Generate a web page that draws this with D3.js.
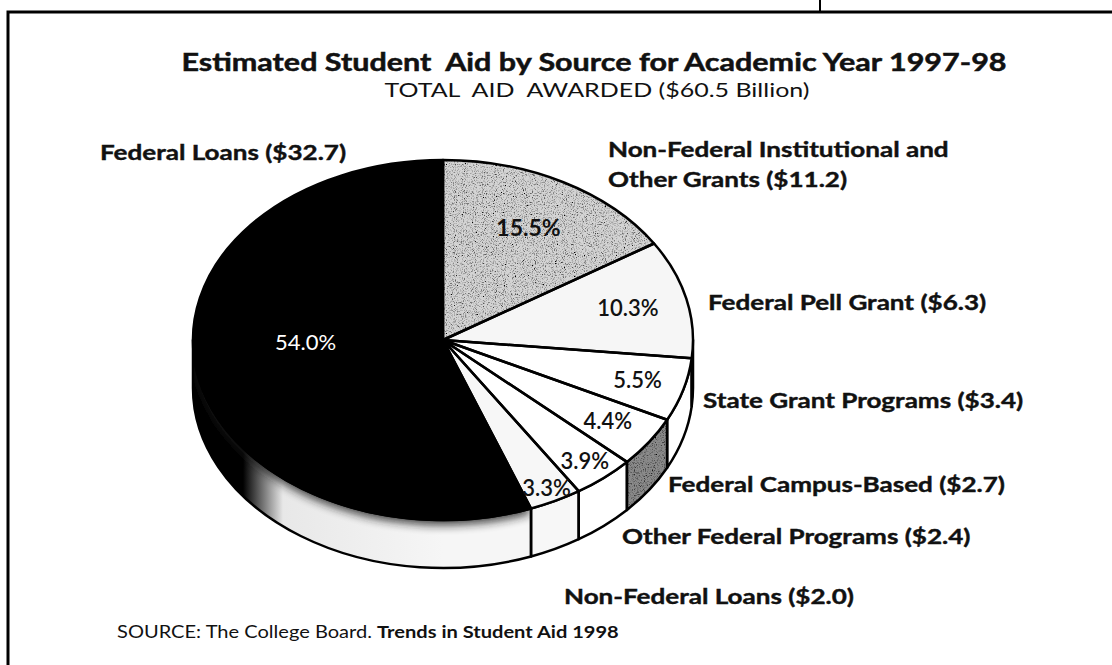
<!DOCTYPE html>
<html>
<head>
<meta charset="utf-8">
<script src="https://cdn.jsdelivr.net/npm/d3@7"></script>
<style>
  body { margin: 0; background: #fff; }
  svg { display: block; }
  text { font-family: Lato, "Open Sans", sans-serif; fill: #111; white-space: pre; }
</style>
</head>
<body>
<svg width="1112" height="665"></svg>
<script>
const svg = d3.select("svg");

// DATA (billions of dollars, and the shares printed on the slices)
const sources = [
  "Non-Federal Institutional and|Other Grants",
  "Federal Pell Grant",
  "State Grant Programs",
  "Federal Campus-Based",
  "Other Federal Programs",
  "Non-Federal Loans",
  "Federal Loans"
];
const billions = [11.2, 6.3, 3.4, 2.7, 2.4, 2.0, 32.7];
const percents = [15.5, 10.3, 5.5, 4.4, 3.9, 3.3, 54.0];
const totalAid = 60.5;

// LOOKS
const topFill = ["#d4d4d4", "#f6f6f6", "#fff", "#fff", "#fff", "#f7f7f7", "#000"];
const wallFill = ["#d4d4d4", "#f6f6f6", "#fff", "#8a8a8a", "#fff", "#f7f7f7", "url(#loanWall)"];
const grainy = [true, false, false, false, false, false, false];
const wallGrainy = [false, false, false, true, false, false, false];

// percent label placement: fraction of radius, angle nudge (deg)
const pctR = [0.71, 0.76, 0.81, 0.80, 0.88, 0.92, 0.55];
const pctNudge = [0, 0, 0, 0, 0, 0, 9];
const pctWeight = [700, 600, 600, 600, 600, 600, 400];
const pctSize = [23, 22, 22, 22, 22, 22, 22];

// category label anchors (left x, centre y of first line)
const nameAt = [[608, 150], [708, 303], [703, 401], [668, 485], [622, 537], [564, 597], [100, 153]];
const wide = 1.24; // the scanned face is much wider than Lato

// pie geometry (tilted ellipse)
const cx = 443, cy = 340, rx = 250, ry = 180, depth = 48;

const defs = svg.append("defs");
const lg = defs.append("linearGradient")
  .attr("id", "loanWall")
  .attr("gradientUnits", "userSpaceOnUse")
  .attr("x1", 193).attr("y1", 0).attr("x2", 443).attr("y2", 0);
lg.append("stop").attr("offset", 0).attr("stop-color", "#000");
lg.append("stop").attr("offset", 0.2).attr("stop-color", "#000");
lg.append("stop").attr("offset", 0.36).attr("stop-color", "#e8e8e8");
lg.append("stop").attr("offset", 1).attr("stop-color", "#f6f6f6");

const f = defs.append("filter").attr("id", "grain")
  .attr("x", 0).attr("y", 0).attr("width", "100%").attr("height", "100%");
f.append("feTurbulence").attr("type", "fractalNoise").attr("baseFrequency", 0.9)
  .attr("numOctaves", 2).attr("seed", 4).attr("result", "n");
f.append("feColorMatrix").attr("in", "n").attr("type", "matrix")
  .attr("values", "0 0 0 0 0  0 0 0 0 0  0 0 0 0 0  3 0 0 0 -1.45").attr("result", "dots");
f.append("feComposite").attr("in", "dots").attr("in2", "SourceGraphic").attr("operator", "in").attr("result", "d2");
const fm = f.append("feMerge");
fm.append("feMergeNode").attr("in", "SourceGraphic");
fm.append("feMergeNode").attr("in", "d2");

defs.append("filter").attr("id", "soft")
  .attr("x", "-10%").attr("y", "-10%").attr("width", "120%").attr("height", "130%")
  .append("feGaussianBlur").attr("stdDeviation", 5);

// stretch a text to k times its natural width
function stretch(sel, k) {
  const w = sel.node().getComputedTextLength() * k;
  sel.attr("textLength", w).attr("lengthAdjust", "spacingAndGlyphs");
  return w;
}

// frame
svg.append("path")
  .attr("d", "M8,665V12H1112")
  .attr("fill", "none").attr("stroke", "#000").attr("stroke-width", 3);
svg.append("line")
  .attr("x1", 820).attr("x2", 820).attr("y1", 0).attr("y2", 12)
  .attr("stroke", "#000").attr("stroke-width", 2);

// titles
const title = svg.append("text")
  .attr("x", 594).attr("y", 62).attr("dy", "0.35em")
  .attr("text-anchor", "middle")
  .attr("font-size", 25).attr("font-weight", 700)
  .attr("stroke", "#111").attr("stroke-width", 0.5)
  .text("Estimated Student  Aid by Source for Academic Year 1997-98");
stretch(title, 1.22);
const sub = svg.append("text")
  .attr("x", 597).attr("y", 90).attr("dy", "0.35em")
  .attr("text-anchor", "middle")
  .attr("font-size", 19)
  .text(`TOTAL  AID  AWARDED ($${totalAid.toFixed(1)} Billion)`);
sub.attr("textLength", 425).attr("lengthAdjust", "spacingAndGlyphs");

// PIE
const pie = d3.pie().sort(null).startAngle(0).endAngle(2 * Math.PI);
const arcs = pie(percents);

const px = a => cx + rx * Math.sin(a);
const py = a => cy - ry * Math.cos(a);

function topPath(d) {
  const large = d.endAngle - d.startAngle > Math.PI ? 1 : 0;
  return `M${cx},${cy}L${px(d.startAngle)},${py(d.startAngle)}` +
    `A${rx},${ry} 0 ${large} 1 ${px(d.endAngle)},${py(d.endAngle)}Z`;
}

function wallPath(d) {
  const a0 = Math.max(d.startAngle, Math.PI / 2);
  const a1 = Math.min(d.endAngle, 3 * Math.PI / 2);
  if (a1 <= a0) return null;
  const large = a1 - a0 > Math.PI ? 1 : 0;
  return `M${px(a0)},${py(a0)}A${rx},${ry} 0 ${large} 1 ${px(a1)},${py(a1)}` +
    `L${px(a1)},${py(a1) + depth}A${rx},${ry} 0 ${large} 0 ${px(a0)},${py(a0) + depth}Z`;
}

const g = svg.append("g");

// side walls
const walls = arcs.map((d, i) => ({ d, i, p: wallPath(d) })).filter(w => w.p);
g.selectAll("path.wallfill").data(walls).enter().append("path")
  .attr("class", "wallfill")
  .attr("d", w => w.p)
  .attr("fill", w => wallFill[w.i])
  .attr("filter", w => wallGrainy[w.i] ? "url(#grain)" : null);

// smudgy shadow where the black top meets its light side
const loans = arcs[arcs.length - 1];
defs.append("clipPath").attr("id", "loanClip")
  .append("path").attr("d", wallPath(loans));
g.append("g").attr("clip-path", "url(#loanClip)")
  .append("path")
  .attr("d", topPath(loans))
  .attr("transform", "translate(0,5)")
  .attr("fill", "#1a1a1a")
  .attr("opacity", 0.85)
  .attr("filter", "url(#soft)");

g.selectAll("path.walledge").data(walls).enter().append("path")
  .attr("class", "walledge")
  .attr("d", w => w.p)
  .attr("fill", "none").attr("stroke", "#000").attr("stroke-width", 2.5)
  .attr("stroke-linejoin", "round");

// top faces
g.selectAll("path.top").data(arcs).enter().append("path")
  .attr("class", "top")
  .attr("d", topPath)
  .attr("fill", (d, i) => topFill[i])
  .attr("filter", (d, i) => grainy[i] ? "url(#grain)" : null);
g.selectAll("path.topedge").data(arcs).enter().append("path")
  .attr("class", "topedge")
  .attr("d", topPath)
  .attr("fill", "none").attr("stroke", "#000").attr("stroke-width", 2.5)
  .attr("stroke-linejoin", "round");

// percent labels
g.selectAll("text.pct").data(arcs).enter().append("text")
  .attr("class", "pct")
  .each(function (d, i) {
    const a = (d.startAngle + d.endAngle) / 2 + pctNudge[i] * Math.PI / 180;
    d3.select(this)
      .attr("x", cx + pctR[i] * rx * Math.sin(a))
      .attr("y", cy - pctR[i] * ry * Math.cos(a));
  })
  .attr("dy", "0.35em")
  .attr("text-anchor", "middle")
  .attr("font-size", (d, i) => pctSize[i])
  .attr("font-weight", (d, i) => pctWeight[i])
  .style("fill", (d, i) => i === 6 ? "#fff" : "#111")
  .text(d => `${d.data.toFixed(1)}%`);

// category labels
sources.forEach((name, i) => {
  const lines = name.split("|");
  lines[lines.length - 1] += ` ($${billions[i].toFixed(1)})`;
  lines.forEach((ln, k) => {
    const t = svg.append("text")
      .attr("x", nameAt[i][0]).attr("y", nameAt[i][1] + k * 30).attr("dy", "0.35em")
      .attr("font-size", 21).attr("font-weight", 700)
      .attr("stroke", "#111").attr("stroke-width", 0.4)
      .text(ln);
    stretch(t, wide);
  });
});

// source line
const s1 = svg.append("text")
  .attr("x", 117).attr("y", 632).attr("dy", "0.35em")
  .attr("font-size", 17)
  .text("SOURCE: The College Board. ");
const w1 = stretch(s1, 1.18);
const s2 = svg.append("text")
  .attr("x", 117 + w1).attr("y", 632).attr("dy", "0.35em")
  .attr("font-size", 17).attr("font-weight", 700)
  .text("Trends in Student Aid 1998");
stretch(s2, 1.18);
</script>
</body>
</html>
